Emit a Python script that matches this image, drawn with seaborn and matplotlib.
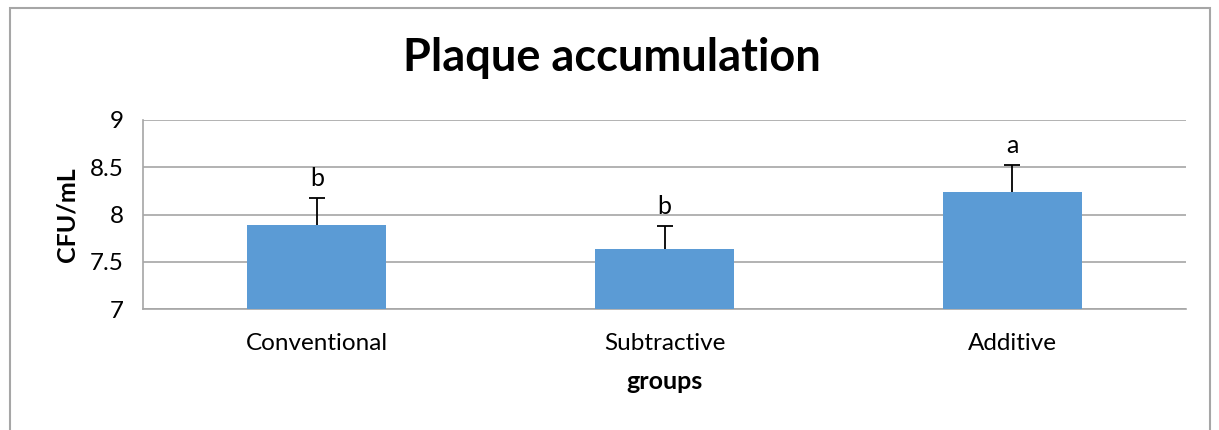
import matplotlib
matplotlib.use("Agg")
import matplotlib.pyplot as plt
import seaborn as sns
import pandas as pd
from matplotlib.patches import Rectangle

# values
groups = ["Conventional", "Subtractive", "Additive"]
cfu = [7.89, 7.63, 8.24]
err = [0.28, 0.25, 0.28]
letters = ["b", "b", "a"]

sns.set_style("white")
plt.rcParams['font.family'] = ['Lato', 'DejaVu Sans']
plt.rcParams['text.color'] = 'black'
plt.rcParams['axes.labelcolor'] = 'black'
plt.rcParams['xtick.color'] = 'black'
plt.rcParams['ytick.color'] = 'black'

df = pd.DataFrame({"groups": groups, "cfu": cfu})

fig = plt.figure(figsize=(12.19, 4.30), dpi=100)
ax = fig.add_axes([143 / 1219, 121 / 430, 1043 / 1219, 189 / 430])

sns.barplot(data=df, x="groups", y="cfu", color="#5B9BD5", width=0.4,
            saturation=1, linewidth=0, ax=ax, zorder=3)
eb = ax.errorbar(range(len(groups)), cfu, yerr=[[0] * len(err), err], fmt="none",
                 ecolor="black", elinewidth=1.3, capsize=6, capthick=1.3, zorder=4)
eb[1][0].set_visible(False)  # only keep upper caps

for i, (v, e, l) in enumerate(zip(cfu, err, letters)):
    ax.annotate(l, (i, v + e), xytext=(0, 6), textcoords="offset points",
                ha="center", va="bottom", fontsize=18)

ax.set_ylim(7, 9)
ax.set_xlim(-0.5, 2.5)
ax.set_yticks([7, 7.5, 8, 8.5, 9])
ax.set_yticklabels(["7", "7.5", "8", "8.5", "9"])
ax.yaxis.grid(True, color="#A6A6A6", linewidth=1.2, zorder=0)
ax.set_axisbelow(True)

for s in ["top", "right"]:
    ax.spines[s].set_visible(False)
ax.spines["left"].set_color("#A6A6A6")
ax.spines["bottom"].set_color("#A6A6A6")
ax.spines["left"].set_linewidth(1.2)
ax.spines["bottom"].set_linewidth(1.2)

# category boundary ticks, Excel style
ax.set_xticks([-0.5, 0.5, 1.5, 2.5])
ax.set_xticklabels([])
ax.set_xticks([0, 1, 2], minor=True)
ax.set_xticklabels(groups, minor=True, fontsize=17.5)
ax.tick_params(axis="x", which="minor", length=0, pad=17)
ax.tick_params(axis="x", which="major", length=8, color="#A6A6A6", width=1.2, direction="out")
ax.tick_params(axis="y", length=6, color="#A6A6A6", width=1.2, direction="out", labelsize=17.5, pad=8)

ax.set_xlabel("groups", fontsize=18, fontweight="bold", labelpad=12)
ax.set_ylabel("CFU/mL", fontsize=18, fontweight="bold", labelpad=8)

fig.text(612 / 1219, 1 - 58 / 430, "Plaque accumulation", ha="center", va="center",
         fontsize=32.5, fontweight="bold")

fig.patches.append(Rectangle((10 / 1219, -0.1), 1200 / 1219, 1.1 - 8 / 430,
                             transform=fig.transFigure, fill=False,
                             edgecolor="#A6A6A6", linewidth=1.5))

fig.savefig("out.png", dpi=100)
